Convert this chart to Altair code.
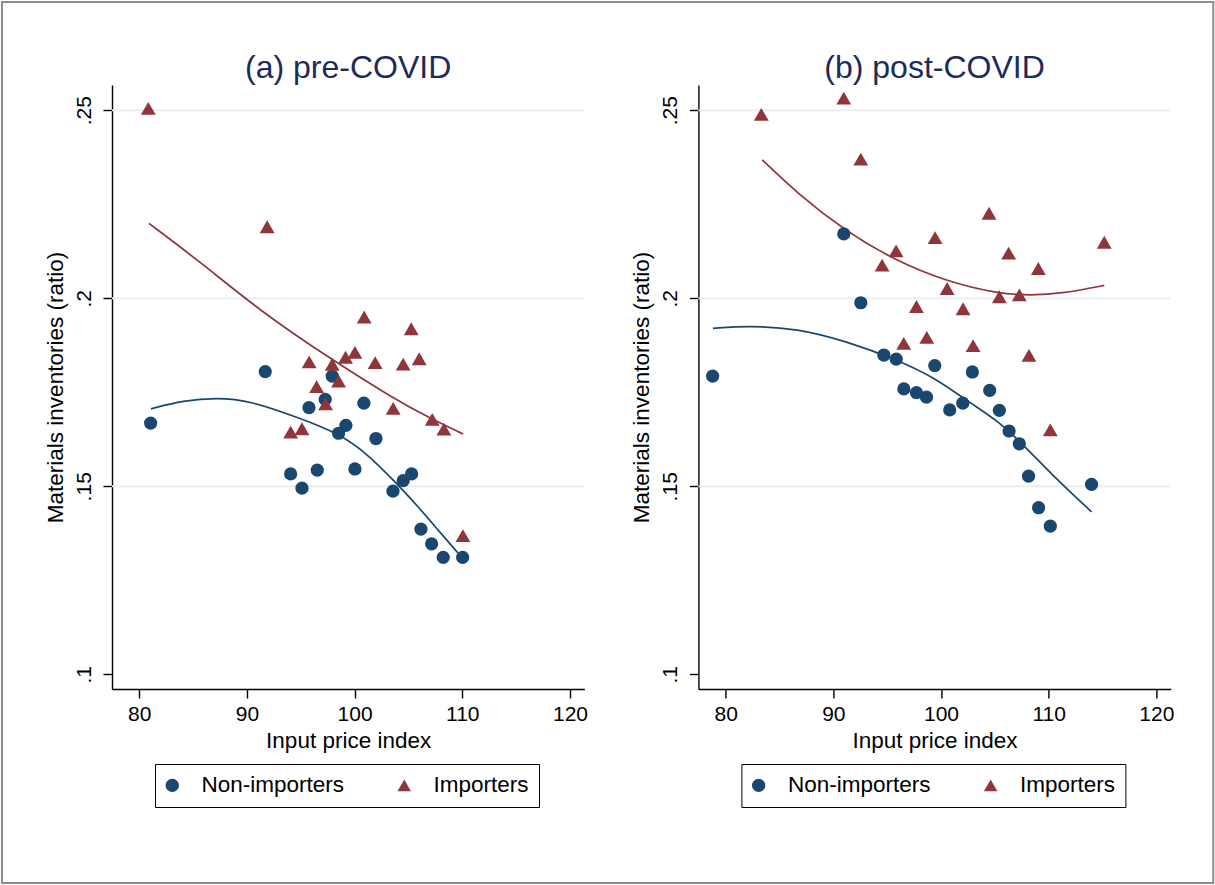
import altair as alt
import pandas as pd

# Series labels, colours and marker shapes
groups = ["Non-importers", "Importers"]
colors = ["#1a476f", "#90353b"]
shapes = ["circle", "triangle-up"]

# (a) pre-COVID: binned means
pre_non_x = [81.06, 91.70, 97.92, 95.76, 97.27, 100.86, 99.19, 98.51, 101.98, 94.06,
             96.53, 100.03, 95.11, 103.56, 104.51, 105.29, 106.16, 107.15, 108.23, 110.03]
pre_non_y = [0.1668, 0.1805, 0.1793, 0.1709, 0.1731, 0.1721, 0.1662, 0.1641, 0.1627, 0.1533,
             0.1543, 0.1546, 0.1495, 0.1487, 0.1515, 0.1533, 0.1386, 0.1347, 0.1311, 0.1311]
pre_imp_x = [80.84, 91.88, 100.89, 105.26, 100.03, 99.16, 95.78, 97.92, 101.91, 104.51,
             106.00, 98.51, 96.47, 97.31, 103.58, 107.21, 108.29, 94.06, 95.11, 110.06]
pre_imp_y = [0.2505, 0.2190, 0.1950, 0.1919, 0.1856, 0.1843, 0.1831, 0.1824, 0.1829, 0.1825,
             0.1839, 0.1780, 0.1765, 0.1719, 0.1707, 0.1678, 0.1652, 0.1644, 0.1653, 0.1369]

# (a) pre-COVID: quadratic fits
pre_non_fit_x = [81.09, 84.09, 87.19, 90.28, 94.92, 98.48, 101.11, 103.58, 106.06, 107.61, 109.62]
pre_non_fit_y = [0.1706, 0.1728, 0.1736, 0.1728, 0.1681, 0.1641, 0.1588, 0.1517, 0.1441, 0.1388, 0.1322]
pre_imp_fit_x = [80.90, 85.64, 91.51, 97.71, 103.58, 106.99, 110.08]
pre_imp_fit_y = [0.2199, 0.2097, 0.1960, 0.1840, 0.1734, 0.1681, 0.1639]

# (b) post-COVID: binned means
post_non_x = [78.79, 90.97, 92.55, 94.69, 95.84, 99.42, 102.91, 96.55, 97.72, 98.65,
              104.52, 100.81, 102.02, 105.42, 106.32, 107.27, 108.13, 113.98, 109.06, 110.15]
post_non_y = [0.1793, 0.2171, 0.1988, 0.1849, 0.1838, 0.1821, 0.1804, 0.1759, 0.1749, 0.1737,
              0.1755, 0.1703, 0.1721, 0.1702, 0.1647, 0.1613, 0.1527, 0.1505, 0.1443, 0.1394]
post_imp_x = [83.31, 90.97, 92.55, 104.46, 99.45, 115.16, 95.83, 106.28, 94.53, 109.04,
              100.57, 105.42, 107.27, 97.72, 102.05, 98.68, 96.54, 102.98, 108.17, 110.15]
post_imp_y = [0.2489, 0.2532, 0.2370, 0.2226, 0.2161, 0.2149, 0.2126, 0.2120, 0.2088, 0.2079,
              0.2026, 0.2004, 0.2009, 0.1978, 0.1972, 0.1896, 0.1880, 0.1874, 0.1848, 0.1650]

# (b) post-COVID: quadratic fits
post_non_fit_x = [78.82, 82.01, 86.65, 91.29, 95.93, 99.32, 102.73, 105.20, 107.67, 110.45, 113.98]
post_non_fit_y = [0.1920, 0.1927, 0.1920, 0.1885, 0.1836, 0.1791, 0.1721, 0.1676, 0.1610, 0.1526, 0.1432]
post_imp_fit_x = [83.40, 86.65, 90.97, 95.61, 100.57, 105.20, 108.29, 111.38, 115.16]
post_imp_fit_y = [0.2368, 0.2279, 0.2182, 0.2102, 0.2044, 0.2013, 0.2007, 0.2013, 0.2034]

x_ticks = [80, 90, 100, 110, 120]
y_ticks = [0.1, 0.15, 0.2, 0.25]
grid_y = [0.15, 0.2, 0.25]
x_domain = [77.47, 121.33]
y_domain = [0.0961, 0.2567]

FONT = "Liberation Sans"
PLOT_W, PLOT_H = 472.3, 604


def panel(title, non_x, non_y, imp_x, imp_y, fit_non, fit_imp, framed):
    df = pd.DataFrame({
        "x": non_x + imp_x,
        "y": non_y + imp_y,
        "group": [groups[0]] * len(non_x) + [groups[1]] * len(imp_x),
    })
    xs = alt.Scale(domain=x_domain, nice=False, zero=False)
    ys = alt.Scale(domain=y_domain, nice=False, zero=False)
    x_axis = alt.Axis(values=x_ticks, title="Input price index", grid=False,
                      tickSize=9, labelPadding=5, titlePadding=5, labelFlush=False)
    y_axis = alt.Axis(values=y_ticks, title="Materials inventories (ratio)", grid=False,
                      tickSize=9, labelAngle=270, labelAlign="center", labelBaseline="bottom",
                      labelPadding=9, titlePadding=6, labelFlush=False,
                      labelExpr="replace(format(datum.value, '.2~f'), '0.', '.')")
    X = alt.X("x:Q", scale=xs, axis=x_axis)
    Y = alt.Y("y:Q", scale=ys, axis=y_axis)

    grid = alt.Chart(pd.DataFrame({"y": grid_y})).mark_rule(
        color="#e8eff2", strokeWidth=2
    ).encode(y=Y)

    fits = []
    for (fx, fy), c in zip([fit_non, fit_imp], colors):
        fits.append(
            alt.Chart(pd.DataFrame({"x": fx, "y": fy}))
            .mark_line(color=c, strokeWidth=1.7, interpolate="basis")
            .encode(x=X, y=Y)
        )

    legend = alt.Legend(
        title=None, orient="none", legendX=43, legendY=679, direction="horizontal",
        strokeColor="black", fillColor="white", padding=10, labelFont=FONT,
        labelFontSize=22.5, labelColor="black", labelOffset=18, columnPadding=52,
        symbolSize=180, symbolStrokeWidth=0, symbolOffset=-4,
    )

    def points(g, size):
        return (
            alt.Chart(df)
            .transform_filter(alt.datum.group == g)
            .mark_point(filled=True, opacity=1, size=size)
            .encode(
                x=X, y=Y,
                color=alt.Color("group:N", scale=alt.Scale(domain=groups, range=colors), legend=legend),
                shape=alt.Shape("group:N", scale=alt.Scale(domain=groups, range=shapes), legend=legend),
            )
        )

    heading = (
        alt.Chart(pd.DataFrame({"t": [title]}))
        .mark_text(font=FONT, fontSize=32, color="#1c2c5a", align="center", baseline="alphabetic")
        .encode(text="t:N", x=alt.value(PLOT_W / 2), y=alt.value(-7))
    )

    layers = []
    if framed:
        # outer figure border
        layers.append(
            alt.Chart(pd.DataFrame({"k": [0]}))
            .mark_rect(fill="transparent", stroke="#8c8c8c", strokeWidth=2)
            .encode(x=alt.value(-110), x2=alt.value(1101.3), y=alt.value(-83), y2=alt.value(798))
        )
    layers += [grid] + fits + [points(groups[0], 175), points(groups[1], 220), heading]

    return alt.layer(*layers).properties(width=PLOT_W, height=PLOT_H)


left = panel("(a) pre-COVID", pre_non_x, pre_non_y, pre_imp_x, pre_imp_y,
             (pre_non_fit_x, pre_non_fit_y), (pre_imp_fit_x, pre_imp_fit_y), True)
right = panel("(b) post-COVID", post_non_x, post_non_y, post_imp_x, post_imp_y,
              (post_non_fit_x, post_non_fit_y), (post_imp_fit_x, post_imp_fit_y), False)

chart = (
    alt.hconcat(left, right, spacing=113.4, bounds="flush")
    .resolve_scale(color="independent", shape="independent")
    .properties(padding={"left": 1, "top": 1, "right": 0, "bottom": 0}, background="white")
    .configure_view(stroke=None)
    .configure_axis(
        domainColor="black", domainWidth=1.4, tickColor="black", tickWidth=1.4,
        labelFont=FONT, labelFontSize=21, labelColor="black",
        titleFont=FONT, titleFontSize=22.5, titleFontWeight="normal", titleColor="black",
    )
)

chart.save("out.html", embed_options={"renderer": "svg", "actions": False})
